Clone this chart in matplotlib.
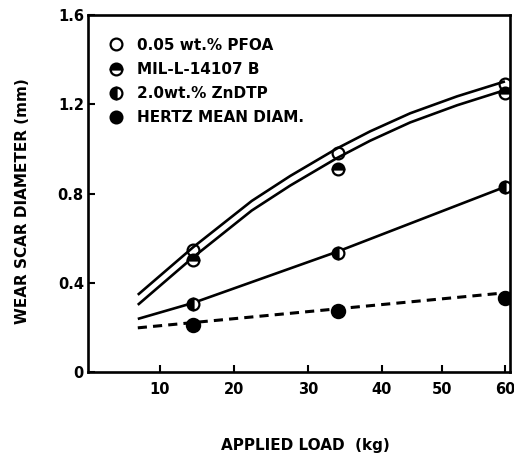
import numpy as np
import matplotlib
matplotlib.use("Agg")
import matplotlib.pyplot as plt
from matplotlib.lines import Line2D

# measured points (load in kg, wear scar diameter in mm)
loads = [14.5, 34, 60]
pfoa = [0.545, 0.984, 1.29]
mil = [0.50, 0.912, 1.25]
zndtp = [0.305, 0.535, 0.83]
hertz = [0.21, 0.274, 0.333]

# hand drawn fit curves
curve_loads = [7, 14.5, 22.4, 27.6, 33.9, 38.4, 44.7, 52.4, 60]
pfoa_curve = [0.346, 0.560, 0.767, 0.879, 1.002, 1.079, 1.160, 1.236, 1.303]
mil_curve = [0.301, 0.515, 0.724, 0.836, 0.959, 1.037, 1.119, 1.196, 1.264]
zndtp_line_loads = [7, 14.5, 34, 60]
zndtp_line = [0.238, 0.31, 0.54, 0.83]
hertz_line_loads = [7, 60]
hertz_line = [0.198, 0.355]

labels = ["0.05 wt.% PFOA", "MIL-L-14107 B", "2.0wt.% ZnDTP", "HERTZ MEAN DIAM."]
x_ticks = [10, 20, 30, 40, 50, 60]
y_ticks = [0, 0.4, 0.8, 1.2, 1.6]
y_ticklabels = ["0", "0.4", "0.8", "1.2", "1.6"]

# the printed load axis is not evenly spaced, so map it piecewise
scale_load = [-10, 0, 10, 20, 30, 40, 50, 60, 70]
scale_pos = [12, 86, 160, 234, 308, 382, 442, 505, 568]


def fwd(x):
    return np.interp(x, scale_load, scale_pos)


def inv(p):
    return np.interp(p, scale_pos, scale_load)


plt.rcParams['font.family'] = 'DejaVu Sans'
plt.rcParams['font.weight'] = 'bold'

fig = plt.figure(figsize=(5.14, 4.54), dpi=100)
ax = fig.add_axes([0.1712, 0.1806, 0.821, 0.786])
ax.set_xscale('function', functions=(fwd, inv))

lw = 1.9
ax.plot(curve_loads, pfoa_curve, color='black', lw=lw, solid_capstyle='butt')
ax.plot(curve_loads, mil_curve, color='black', lw=lw, solid_capstyle='butt')
ax.plot(zndtp_line_loads, zndtp_line, color='black', lw=lw, solid_capstyle='butt')
ax.plot(hertz_line_loads, hertz_line, color='black', lw=2.2, dashes=(3, 2))

mk = dict(ms=8.5, mew=1.6, mec='black', mfc='black', color='black', ls='none')
ax.plot(loads, hertz, marker='o', fillstyle='full', **dict(mk, ms=9.5))
ax.plot(loads, zndtp, marker='o', fillstyle='left', markerfacecoloralt='white', **mk)
ax.plot(loads, mil, marker='o', fillstyle='top', markerfacecoloralt='white', **mk)
ax.plot(loads, pfoa, marker='o', fillstyle='none', **mk)

ax.set_xlim(0.27, 60.8)
ax.set_ylim(0, 1.6)
ax.set_xticks(x_ticks)
ax.set_xticklabels([str(t) for t in x_ticks])
ax.set_yticks(y_ticks)
ax.set_yticklabels(y_ticklabels)
ax.minorticks_off()
ax.tick_params(axis='x', direction='in', length=5, width=1.5, pad=7, labelsize=10.5)
ax.tick_params(axis='y', direction='in', length=5, width=1.5, pad=3, labelsize=10.5)
for s in ax.spines.values():
    s.set_linewidth(1.9)

ax.set_xlabel("APPLIED LOAD  (kg)", fontsize=11, fontweight='bold')
ax.xaxis.set_label_coords(0.514, -0.207)
ax.xaxis.label.set_va('center')
ax.set_ylabel("WEAR SCAR DIAMETER (mm)", fontsize=11, fontweight='bold')
ax.yaxis.set_label_coords(-0.156, 0.48)
ax.yaxis.label.set_va('center')

handles = [
    Line2D([], [], marker='o', fillstyle='none', **mk),
    Line2D([], [], marker='o', fillstyle='top', markerfacecoloralt='white', **mk),
    Line2D([], [], marker='o', fillstyle='left', markerfacecoloralt='white', **mk),
    Line2D([], [], marker='o', fillstyle='full', **mk),
]
leg = ax.legend(handles, labels, loc='upper left', bbox_to_anchor=(0.019, 0.975),
                frameon=False, handlelength=0.8, handletextpad=0.95,
                labelspacing=0.6, prop=dict(size=11, weight='bold'))

fig.savefig("out.png", dpi=100)
